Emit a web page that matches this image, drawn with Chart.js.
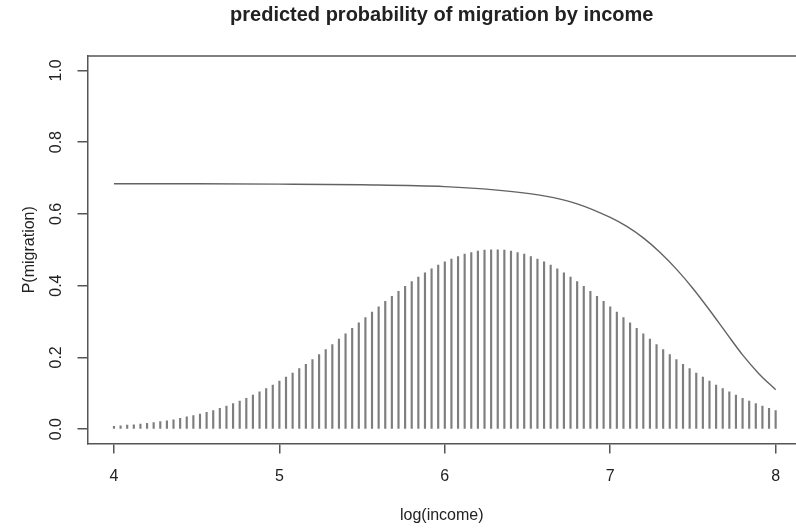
<!DOCTYPE html>
<html>
<head>
<meta charset="utf-8">
<script src="https://cdn.jsdelivr.net/npm/chart.js@4/dist/chart.umd.min.js"></script>
<style>
  html, body { margin: 0; padding: 0; background: #fff; overflow: hidden; }
</style>
</head>
<body>
<canvas id="chart1" width="796" height="529"></canvas>
<script>
// spikes (type="h"), one every 0.04 from 4 to 8
const spikeStart = 4;
const spikeStep = 0.04;
const spikeHeights = [
  0.008, 0.009, 0.011, 0.012, 0.014, 0.016, 0.018, 0.021, 0.023, 0.026,
  0.030, 0.034, 0.038, 0.042, 0.047, 0.052, 0.058, 0.064, 0.071, 0.078,
  0.086, 0.095, 0.104, 0.113, 0.123, 0.134, 0.145, 0.156, 0.169, 0.181,
  0.194, 0.208, 0.222, 0.236, 0.251, 0.266, 0.281, 0.296, 0.311, 0.326,
  0.341, 0.356, 0.370, 0.384, 0.398, 0.411, 0.424, 0.436, 0.447, 0.457,
  0.466, 0.474, 0.481, 0.488, 0.492, 0.496, 0.499, 0.500,
  0.500, 0.499, 0.496, 0.492, 0.488, 0.481, 0.474, 0.466, 0.457, 0.447,
  0.436, 0.424, 0.411, 0.398, 0.384, 0.370, 0.356, 0.341, 0.326, 0.311,
  0.296, 0.281, 0.266, 0.251, 0.236, 0.222, 0.208, 0.194, 0.181, 0.169,
  0.156, 0.145, 0.134, 0.123, 0.113, 0.104, 0.095, 0.086, 0.078, 0.071,
  0.064, 0.058, 0.052
];

// predicted probability curve
const curveX = [4.0, 4.5, 5.0, 5.5, 6.0, 6.3, 6.6, 6.8, 7.0, 7.1, 7.2, 7.3, 7.4, 7.5, 7.6, 7.7, 7.8, 7.9, 8.0];
const curveP = [0.684, 0.684, 0.683, 0.681, 0.676, 0.667, 0.650, 0.628, 0.590, 0.565, 0.533, 0.493, 0.446, 0.392, 0.332, 0.269, 0.207, 0.154, 0.110];

const xTicks = [4, 5, 6, 7, 8];
const yTicks = [0, 0.2, 0.4, 0.6, 0.8, 1.0];

const FONT = "'Liberation Sans', Arial, Helvetica, sans-serif";
const LINE = '#555';
const TEXT = '#222';

const spikeData = spikeHeights.map((h, i) => ({ x: spikeStart + i * spikeStep, y: h }));
const curveData = curveX.map((x, i) => ({ x: x, y: curveP[i] }));

// top edge of the plot box (left and bottom come from the axes)
const boxTop = {
  id: 'boxTop',
  afterDraw(chart) {
    const a = chart.chartArea;
    const c = chart.ctx;
    c.save();
    c.strokeStyle = LINE;
    c.lineWidth = 1.5;
    c.beginPath();
    c.moveTo(a.left, a.top);
    c.lineTo(a.right, a.top);
    c.stroke();
    c.restore();
  }
};

new Chart(document.getElementById('chart1'), {
  type: 'bar',
  data: {
    datasets: [
      {
        type: 'line',
        data: curveData,
        borderColor: '#636363',
        borderWidth: 1.4,
        pointRadius: 0,
        fill: false,
        cubicInterpolationMode: 'monotone',
        order: 0
      },
      {
        type: 'bar',
        data: spikeData,
        backgroundColor: '#7e7e7e',
        barThickness: 1.5,
        order: 1
      }
    ]
  },
  options: {
    responsive: false,
    animation: false,
    events: [],
    layout: { padding: 0 },
    plugins: {
      legend: { display: false },
      tooltip: { enabled: false },
      title: {
        display: true,
        text: 'predicted probability of migration by income',
        color: TEXT,
        fullSize: false,
        font: { family: FONT, size: 20, weight: 'bold' },
        padding: { top: 3, bottom: 29 }
      }
    },
    scales: {
      x: {
        type: 'linear',
        min: 3.84,
        max: 8.123,
        offset: false,
        afterBuildTicks: s => { s.ticks = xTicks.map(v => ({ value: v })); },
        afterFit: s => { s.height = 85.5; },
        grid: { display: true, offset: false, drawOnChartArea: false, drawTicks: true, tickLength: 10, color: LINE, lineWidth: 1.5 },
        border: { display: true, color: LINE, width: 1.5 },
        ticks: {
          color: TEXT,
          font: { family: FONT, size: 16 },
          padding: 13,
          maxRotation: 0,
          callback: v => String(v)
        },
        title: {
          display: true,
          text: 'log(income)',
          color: TEXT,
          font: { family: FONT, size: 16 },
          padding: { top: 0, bottom: 4 }
        }
      },
      y: {
        type: 'linear',
        min: -0.04,
        max: 1.04,
        afterBuildTicks: s => { s.ticks = yTicks.map(v => ({ value: v })); },
        afterFit: s => { s.width = 87.5; },
        grid: { display: true, drawOnChartArea: false, drawTicks: true, tickLength: 10, color: LINE, lineWidth: 1.5 },
        border: { display: true, color: LINE, width: 1.5 },
        ticks: {
          color: TEXT,
          font: { family: FONT, size: 16 },
          padding: 9.5,
          minRotation: 90,
          maxRotation: 90,
          crossAlign: 'center',
          callback: v => v.toFixed(1)
        },
        title: {
          display: true,
          text: 'P(migration)',
          color: TEXT,
          font: { family: FONT, size: 16 },
          padding: { top: 20, bottom: 0 }
        }
      }
    }
  },
  plugins: [boxTop]
});
</script>
</body>
</html>
